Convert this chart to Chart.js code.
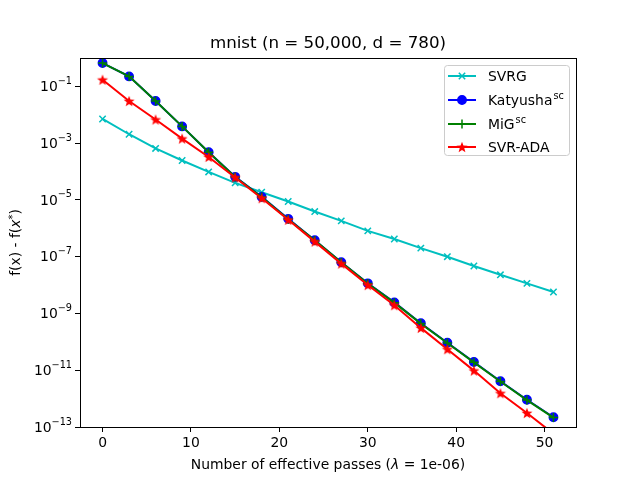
<!DOCTYPE html>
<html>
<head>
<meta charset="utf-8">
<script src="https://cdn.jsdelivr.net/npm/chart.js@4.4.1/dist/chart.umd.min.js"></script>
<style>html,body{margin:0;padding:0;background:#fff}</style>
</head>
<body>
<canvas id="c" width="640" height="480"></canvas>
<script>
// effective passes (x) and suboptimality f(x) - f(x*) per method
const passes = [0, 3, 6, 9, 12, 15, 18, 21, 24, 27, 30, 33, 36, 39, 42, 45, 48, 51];
const svrg = [7.1e-3, 2.06e-3, 6.5e-4, 2.45e-4, 9.7e-5, 4.0e-5, 1.87e-5, 8.8e-6, 3.9e-6, 1.83e-6,
  8.1e-7, 4.2e-7, 2.0e-7, 1.0e-7, 4.7e-8, 2.3e-8, 1.15e-8, 5.7e-9];
const katyusha = [0.66, 0.225, 3.05e-2, 3.9e-3, 4.8e-4, 6.5e-5, 1.28e-5, 2.15e-6, 3.8e-7, 6.4e-8,
  1.15e-8, 2.45e-9, 4.5e-10, 9.3e-11, 1.95e-11, 4.1e-12, 9.1e-13, 2.2e-13];
const mig = [0.66, 0.225, 3.05e-2, 3.9e-3, 4.8e-4, 6.4e-5, 1.27e-5, 2.1e-6, 3.75e-7, 6.3e-8,
  1.13e-8, 2.4e-9, 4.4e-10, 9.1e-11, 1.9e-11, 4.0e-12, 8.9e-13, 2.15e-13];
const svrAda = [0.172, 3.05e-2, 6.8e-3, 1.45e-3, 3.27e-4, 6.2e-5, 1.15e-5, 2.0e-6, 3.4e-7, 5.7e-8,
  1.0e-8, 1.95e-9, 3.1e-10, 5.5e-11, 9.7e-12, 1.55e-12, 3.1e-13, 5.8e-14];

const seriesNames = ['SVRG', 'Katyusha^sc', 'MiG^sc', 'SVR-ADA'];
const xTicks = [0, 10, 20, 30, 40, 50];
const yTickExps = [-13, -11, -9, -7, -5, -3, -1];

const FONT = 'DejaVu Sans';

// filled five point star like matplotlib '*'
const star = document.createElement('canvas');
star.width = 14; star.height = 14;
(function () {
  const g = star.getContext('2d');
  g.beginPath();
  for (let i = 0; i < 10; i++) {
    const r = i % 2 ? 2.4 : 5.8;
    const a = -Math.PI / 2 + i * Math.PI / 5;
    g.lineTo(7 + r * Math.cos(a), 7.5 + r * Math.sin(a));
  }
  g.closePath();
  g.fillStyle = '#ff0000';
  g.fill();
})();

const mk = (i, data, color, style, radius, order) => ({
  label: seriesNames[i],
  data: passes.map((x, j) => ({x: x, y: data[j]})),
  borderColor: color,
  backgroundColor: color,
  borderWidth: 2,
  pointStyle: style,
  pointRadius: radius,
  pointHoverRadius: radius,
  pointBorderWidth: 1.5,
  order: order
});

// draw text made of pieces {t, f, dy}; align 'center' or 'right'
function drawRich(ctx, parts, x0, y0, align) {
  let w = 0;
  parts.forEach(p => { ctx.font = p.f; w += ctx.measureText(p.t).width; });
  let x = align === 'right' ? x0 - w : x0 - w / 2;
  parts.forEach(p => {
    ctx.font = p.f;
    ctx.fillText(p.t, x, y0 + (p.dy || 0));
    x += ctx.measureText(p.t).width;
  });
}

const decor = {
  id: 'decor',
  afterDraw(chart) {
    const ctx = chart.ctx;
    const a = chart.chartArea;
    ctx.save();
    ctx.strokeStyle = '#000';
    ctx.lineWidth = 1;
    ctx.strokeRect(Math.round(a.left) + 0.5, Math.round(a.top) + 0.5,
      Math.round(a.right - a.left), Math.round(a.bottom - a.top));

    ctx.fillStyle = '#000';
    ctx.textBaseline = 'alphabetic';
    const cx = (a.left + a.right) / 2;
    drawRich(ctx, [{t: 'mnist (n = 50,000, d = 780)', f: '16.7px ' + FONT}], cx, 48);
    drawRich(ctx, [
      {t: 'Number of effective passes (', f: '13.9px ' + FONT},
      {t: '\u03BB', f: 'italic 13.9px ' + FONT},
      {t: ' = ', f: '13.9px ' + FONT},
      {t: '1e-06)', f: '13.9px ' + FONT}
    ], cx, 469);

    // y tick labels as 10 with raised exponent
    const ys = chart.scales.y;
    ctx.textBaseline = 'middle';
    yTickExps.forEach(e => {
      const py = ys.getPixelForValue(Math.pow(10, e));
      drawRich(ctx, [
        {t: '10', f: '13.9px ' + FONT, dy: 1},
        {t: '\u2212' + Math.abs(e), f: '9.7px ' + FONT, dy: -5}
      ], 72, py, 'right');
    });
    ctx.textBaseline = 'alphabetic';

    ctx.save();
    ctx.translate(20, (a.top + a.bottom) / 2);
    ctx.rotate(-Math.PI / 2);
    drawRich(ctx, [
      {t: 'f(x) - f(', f: '13.9px ' + FONT},
      {t: 'x', f: 'italic 13.9px ' + FONT},
      {t: '*', f: '10px ' + FONT, dy: -4},
      {t: ')', f: '13.9px ' + FONT}
    ], 0, 0);
    ctx.restore();

    // legend
    const lx = 444, ly = 65, lw = 125, lh = 90;
    ctx.beginPath();
    ctx.roundRect(lx + 0.5, ly + 0.5, lw, lh, 3);
    ctx.fillStyle = 'rgba(255,255,255,0.8)';
    ctx.fill();
    ctx.strokeStyle = '#cccccc';
    ctx.stroke();
    const rows = [76, 100, 124, 147];
    chart.data.datasets.forEach((d, i) => {
      const y = rows[i];
      ctx.strokeStyle = d.borderColor;
      ctx.lineWidth = 2;
      ctx.beginPath();
      ctx.moveTo(448, y);
      ctx.lineTo(476, y);
      ctx.stroke();
      ctx.fillStyle = d.backgroundColor;
      ctx.lineWidth = d.pointBorderWidth;
      Chart.helpers.drawPoint(ctx, {pointStyle: d.pointStyle, radius: d.pointRadius,
        borderWidth: d.pointBorderWidth, rotation: 0}, 462, y);
      const parts = d.label.split('^');
      ctx.fillStyle = '#000';
      ctx.textBaseline = 'middle';
      ctx.font = '13.9px ' + FONT;
      ctx.fillText(parts[0], 488, y + 1);
      if (parts[1]) {
        const w = ctx.measureText(parts[0]).width;
        ctx.font = '9.7px ' + FONT;
        ctx.fillText(parts[1], 488 + w + 1, y - 4);
      }
    });
    ctx.restore();
  }
};

new Chart(document.getElementById('c'), {
  type: 'line',
  data: {
    datasets: [
      mk(0, svrg, '#00bfbf', 'crossRot', 4.5, 3),
      mk(1, katyusha, '#0000ff', 'circle', 4.2, 2),
      mk(2, mig, '#008000', 'cross', 4.5, 1),
      mk(3, svrAda, '#ff0000', star, 6, 0)
    ]
  },
  options: {
    responsive: false,
    animation: false,
    devicePixelRatio: 1,
    layout: {padding: {left: 0, top: 58, right: 64, bottom: 0}},
    plugins: {legend: {display: false}, title: {display: false}, tooltip: {enabled: false}},
    scales: {
      x: {
        type: 'linear',
        min: -2.55,
        max: 53.55,
        afterBuildTicks: s => { s.ticks = xTicks.map(v => ({value: v})); },
        afterFit: s => { s.height = 53; },
        ticks: {color: '#000', font: {family: FONT, size: 13.9}, padding: 3, maxRotation: 0},
        grid: {drawOnChartArea: false, tickLength: 5, tickColor: '#000'},
        border: {color: '#000'}
      },
      y: {
        type: 'logarithmic',
        min: 1e-13,
        max: 1,
        afterBuildTicks: s => { s.ticks = yTickExps.map(e => ({value: Math.pow(10, e)})); },
        afterFit: s => { s.width = 80; },
        ticks: {display: false},
        grid: {drawOnChartArea: false, tickLength: 5, tickColor: '#000'},
        border: {color: '#000'}
      }
    }
  },
  plugins: [decor]
});
</script>
</body>
</html>
